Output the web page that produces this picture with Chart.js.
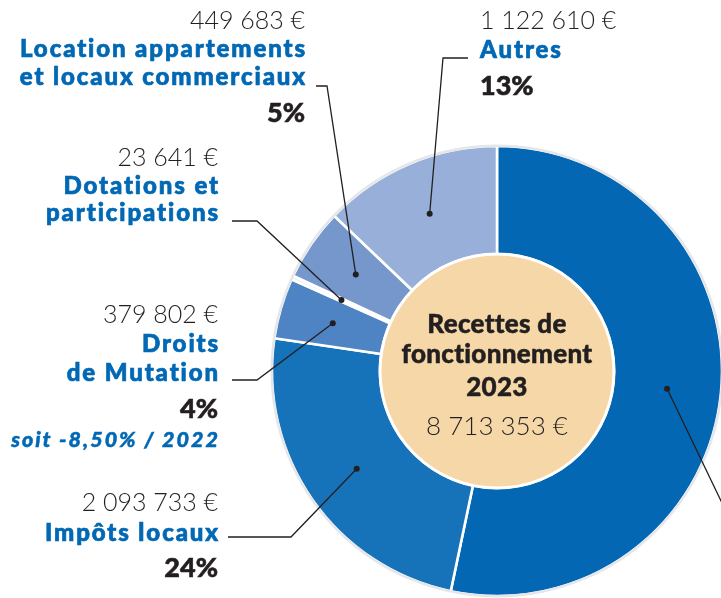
<!DOCTYPE html>
<html lang="fr">
<head>
<meta charset="utf-8">
<script src="https://cdn.jsdelivr.net/npm/chart.js@4/dist/chart.umd.min.js"></script>
<style>
  html, body { margin: 0; padding: 0; background: #fff; }
  #wrap { position: relative; width: 721px; height: 598px; overflow: hidden; }
  #c { position: absolute; left: 0; top: 0; }
  svg { position: absolute; left: 0; top: 0; }
  .num { font: 300 25px Lato, sans-serif; fill: #231f20; }
  .lab { font: 900 24px Lato, sans-serif; fill: #0068b4; stroke: #0068b4; stroke-width: 0.7px; letter-spacing: 1.9px; }
  .pct { font: 900 27px Lato, sans-serif; fill: #231f20; stroke: #231f20; stroke-width: 0.6px; }
  .ctr { font: 900 26px Lato, sans-serif; fill: #231f20; stroke: #231f20; stroke-width: 0.5px; letter-spacing: 0.3px; }
  .ctrnum { font: 300 26px Lato, sans-serif; fill: #231f20; }
  .note { font: italic 900 21.5px Lato, sans-serif; fill: #0068b4; stroke: #0068b4; stroke-width: 0.5px; letter-spacing: 2px; }
</style>
</head>
<body>
<div id="wrap">
  <canvas id="c" width="994" height="742"></canvas>
  <svg width="721" height="598" xmlns="http://www.w3.org/2000/svg">
    <!-- Location -->
    <text class="num" x="305" y="29" text-anchor="end">449 683 €</text>
    <text class="lab" x="307" y="57" text-anchor="end">Location appartements</text>
    <text class="lab" x="307" y="85" text-anchor="end">et locaux commerciaux</text>
    <text class="pct" x="305" y="122" text-anchor="end">5%</text>
    <!-- Autres -->
    <text class="num" x="480" y="29">1 122 610 €</text>
    <text class="lab" x="480" y="58">Autres</text>
    <text class="pct" x="480" y="95">13%</text>
    <!-- Dotations -->
    <text class="num" x="218" y="166" text-anchor="end">23 641 €</text>
    <text class="lab" x="220" y="194" text-anchor="end">Dotations et</text>
    <text class="lab" x="220" y="221" text-anchor="end">participations</text>
    <!-- Droits -->
    <text class="num" x="218" y="323" text-anchor="end">379 802 €</text>
    <text class="lab" x="220" y="352" text-anchor="end">Droits</text>
    <text class="lab" x="220" y="381" text-anchor="end">de Mutation</text>
    <text class="pct" x="218" y="418" text-anchor="end">4%</text>
    <text class="note" x="220" y="447" text-anchor="end">soit -8,50% / 2022</text>
    <!-- Impôts -->
    <text class="num" x="218" y="511" text-anchor="end">2 093 733 €</text>
    <text class="lab" x="220" y="541" text-anchor="end">Impôts locaux</text>
    <text class="pct" x="218" y="577" text-anchor="end">24%</text>
    <!-- Centre -->
    <text class="ctr" x="497" y="333" text-anchor="middle">Recettes de</text>
    <text class="ctr" x="497" y="363" text-anchor="middle">fonctionnement</text>
    <text class="ctr" x="497" y="396" text-anchor="middle">2023</text>
    <text class="ctrnum" x="497" y="435" text-anchor="middle">8 713 353 €</text>
  </svg>
</div>
<script>
// ---- Data ----
const categories = [
  'Autres recettes (libellé hors cadre)',
  'Impôts locaux',
  'Droits de Mutation',
  'Dotations et participations',
  'Location appartements et locaux commerciaux',
  'Autres'
];
// Total shown in the centre: 8 713 353 €; first slice = remainder of the total
const totalRecettes = 8713353;
const values = [4643884, 2093733, 379802, 23641, 449683, 1122610];
const sliceColors = ['#0467b4', '#1673b9', '#4f84c4', '#e8eef7', '#7597cc', '#97afd9'];

// leader anchors (label side): [startX, startY, elbowX, elbowY]
const leaderAnchors = [
  [735, 530, 735, 530],
  [228, 537, 291, 537],
  [232, 380, 257, 380],
  [232, 221, 257, 221],
  [316, 86, 327, 86],
  [468, 58, 443, 58]
];

const decor = {
  id: 'decor',
  afterDatasetsDraw(chart) {
    const ctx = chart.ctx;
    const meta = chart.getDatasetMeta(0);
    const a0 = meta.data[0];
    const p = a0.getProps(['x', 'y', 'outerRadius', 'innerRadius'], true);
    ctx.save();
    // faint outer rim
    ctx.beginPath();
    ctx.arc(p.x, p.y, p.outerRadius + 0.3, 0, Math.PI * 2);
    ctx.strokeStyle = '#e4e6ea';
    ctx.lineWidth = 2.4;
    ctx.stroke();
    // beige centre disc
    ctx.beginPath();
    ctx.arc(p.x, p.y, p.innerRadius, 0, Math.PI * 2);
    ctx.fillStyle = '#f6d8a8';
    ctx.fill();
    ctx.lineWidth = 3;
    ctx.strokeStyle = '#ffffff';
    ctx.stroke();
    // leader lines
    meta.data.forEach((arc, i) => {
      const c = arc.getCenterPoint(true);
      const an = leaderAnchors[i];
      ctx.beginPath();
      ctx.moveTo(an[0], an[1]);
      ctx.lineTo(an[2], an[3]);
      ctx.lineTo(c.x, c.y);
      ctx.strokeStyle = '#231f20';
      ctx.lineWidth = 1.3;
      ctx.stroke();
      ctx.beginPath();
      ctx.arc(c.x, c.y, 3, 0, Math.PI * 2);
      ctx.fillStyle = '#231f20';
      ctx.fill();
    });
    ctx.restore();
  }
};

new Chart(document.getElementById('c'), {
  type: 'doughnut',
  data: {
    labels: categories,
    datasets: [{
      data: values,
      backgroundColor: sliceColors,
      borderColor: '#ffffff',
      borderWidth: 2.6,
      borderJoinStyle: 'miter'
    }]
  },
  options: {
    responsive: false,
    animation: false,
    devicePixelRatio: 1,
    radius: 225,
    cutout: '52%',
    layout: { padding: 0 },
    plugins: { legend: { display: false }, tooltip: { enabled: false } }
  },
  plugins: [decor]
});
</script>
</body>
</html>
